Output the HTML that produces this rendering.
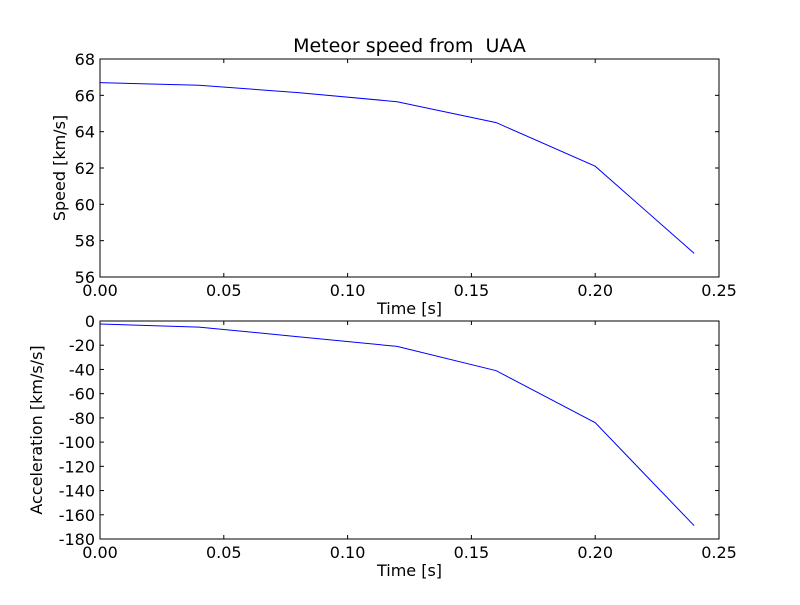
<!DOCTYPE html>
<html><head><meta charset="utf-8"><style>
body{margin:0;background:#fff;}
svg text{font-family:"DejaVu Sans","Liberation Sans",sans-serif;white-space:pre;}
</style></head><body>
<svg id="chart" width="800" height="600" xmlns="http://www.w3.org/2000/svg"></svg>
<script>
const times = [0, 0.04, 0.08, 0.12, 0.16, 0.20, 0.24];
const speeds = [66.7, 66.55, 66.15, 65.65, 64.5, 62.1, 57.3];
const accels = [-2.5, -5, -13, -21, -41, -84, -169];
const xTicks = [0.00, 0.05, 0.10, 0.15, 0.20, 0.25];
const speedTicks = [56, 58, 60, 62, 64, 66, 68];
const accelTicks = [-180, -160, -140, -120, -100, -80, -60, -40, -20, 0];

const svg = document.getElementById('chart');
const NS = 'http://www.w3.org/2000/svg';
function mk(tag, attrs, parent, text){
  const e = document.createElementNS(NS, tag);
  for (const k in attrs) e.setAttribute(k, attrs[k]);
  if (text !== undefined) e.textContent = text;
  (parent || svg).appendChild(e);
  return e;
}
const L = 100, R = 719;
function xs(v){ return L + (v - 0) / 0.25 * (R - L); }

function panel(name, top, bot, ymin, ymax, yTicks, vals, ylabel, yLabelX, title){
  const g = mk('g', {});
  
  
  const ys = v => bot - (v - ymin) / (ymax - ymin) * (bot - top);
  const pts = times.map((t, i) => xs(t).toFixed(1) + ',' + ys(vals[i]).toFixed(1)).join(' ');
  const line = mk('polyline', {points: pts, fill: 'none', stroke: '#0000ff', 'stroke-width': 1}, g);
  
  
  mk('rect', {x: L, y: top, width: R - L, height: bot - top, fill: 'none', stroke: '#000', 'stroke-width': 1}, g);
  xTicks.forEach(t => {
    const x = xs(t);
    mk('line', {x1: x, x2: x, y1: bot, y2: bot - 4, stroke: '#000'}, g);
    mk('line', {x1: x, x2: x, y1: top, y2: top + 4, stroke: '#000'}, g);
    const tl = mk('text', {x: x, y: bot + 19, 'text-anchor': 'middle', 'font-size': 16}, g, t.toFixed(2));
    
    
  });
  yTicks.forEach(v => {
    const y = ys(v);
    mk('line', {x1: L, x2: L + 4, y1: y, y2: y, stroke: '#000'}, g);
    mk('line', {x1: R, x2: R - 4, y1: y, y2: y, stroke: '#000'}, g);
    const tl = mk('text', {x: L - 5, y: y + 6, 'text-anchor': 'end', 'font-size': 16}, g, String(v));
    
    
  });
  const xl = mk('text', {x: (L + R) / 2, y: bot + 37, 'text-anchor': 'middle', 'font-size': 16}, g, 'Time [s]');
  
  
  const cy = (top + bot) / 2;
  const yl = mk('text', {x: yLabelX, y: cy, 'text-anchor': 'middle', 'font-size': 16, transform: 'rotate(-90 ' + yLabelX + ' ' + cy + ')'}, g, ylabel);
  
  
  if (title) {
    const tt = mk('text', {x: (L + R) / 2, y: top - 7, 'text-anchor': 'middle', 'font-size': 19}, g, title);
    
    
  }
}
panel('speed-panel', 59, 277, 56, 68, speedTicks, speeds, 'Speed [km/s]', 65, 'Meteor speed from  UAA');
panel('acceleration-panel', 321, 539, -180, 0, accelTicks, accels, 'Acceleration [km/s/s]', 42, null);
</script>
</body></html>
